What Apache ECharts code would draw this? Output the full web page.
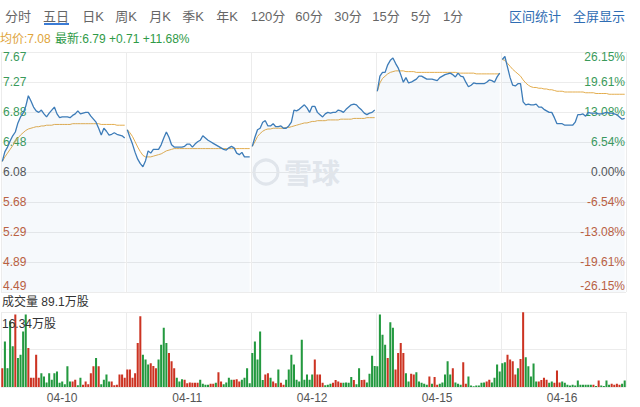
<!DOCTYPE html>
<html><head><meta charset="utf-8">
<script src="https://cdn.jsdelivr.net/npm/echarts@6/dist/echarts.min.js"></script>
<style>html,body{margin:0;padding:0;background:#fff;}#c{width:640px;height:407px;}</style>
</head><body><div id="c"></div>
<script>
// ---- data ----
const days = ['04-10','04-11','04-12','04-15','04-16'];
const priceTicks = ['4.49','4.89','5.29','5.68','6.08','6.48','6.88','7.27','7.67'];
const pctTicks = ['-26.15%','-19.61%','-13.08%','-6.54%','0.00%','6.54%','13.08%','19.61%','26.15%'];
const priceMin = 4.49, priceMax = 7.67, volMax = 16.34;
const tabs = ['分时','五日','日K','周K','月K','季K','年K','120分','60分','30分','15分','5分','1分'];
const tabsRight = ['区间统计','全屏显示'];

const price1 = [6.22,6.35,6.41,6.49,6.56,6.61,6.73,6.81,6.86,6.95,7.09,7.02,6.94,6.89,6.87,6.90,6.85,6.81,6.86,6.90,6.94,6.85,6.80,6.81,6.81,6.81,6.80,6.83,6.85,6.89,6.85,6.86,6.87,6.87,6.82,6.78,6.74,6.66,6.57,6.66,6.62,6.57,6.58,6.60,6.58,6.57,6.56,6.53];
const price2 = [6.64,6.54,6.45,6.34,6.25,6.19,6.15,6.23,6.36,6.33,6.38,6.38,6.38,6.44,6.53,6.61,6.54,6.44,6.41,6.41,6.41,6.41,6.42,6.45,6.45,6.41,6.45,6.48,6.50,6.56,6.53,6.50,6.48,6.46,6.44,6.42,6.40,6.38,6.37,6.40,6.42,6.40,6.33,6.31,6.34,6.28,6.28,6.28];
const price3 = [6.42,6.54,6.64,6.66,6.74,6.76,6.69,6.69,6.72,6.68,6.68,6.69,6.66,6.66,6.69,6.74,6.90,6.89,6.91,6.94,6.97,6.93,6.87,6.95,6.95,6.87,6.84,6.81,6.85,6.87,6.86,6.87,6.87,6.90,6.89,6.87,6.91,6.94,6.97,6.98,6.97,6.93,6.90,6.86,6.84,6.86,6.87,6.90];
const price4 = [7.15,7.35,7.40,7.40,7.50,7.56,7.59,7.52,7.46,7.37,7.27,7.33,7.26,7.27,7.29,7.31,7.35,7.35,7.33,7.31,7.31,7.31,7.30,7.29,7.33,7.35,7.37,7.38,7.39,7.37,7.34,7.39,7.35,7.34,7.27,7.21,7.23,7.26,7.25,7.25,7.25,7.25,7.27,7.30,7.29,7.27,7.34,7.39];
const price5 = [7.57,7.61,7.47,7.33,7.23,7.22,7.25,7.25,7.01,6.97,6.98,6.97,6.97,6.98,6.94,6.94,6.91,6.89,6.87,6.87,6.80,6.72,6.72,6.72,6.70,6.70,6.70,6.70,6.74,6.84,6.84,6.85,6.82,6.87,6.86,6.86,6.86,6.85,6.85,6.86,6.87,6.86,6.86,6.85,6.84,6.81,6.78,6.79];

const avg1 = [6.22,6.28,6.33,6.38,6.43,6.48,6.53,6.57,6.60,6.63,6.65,6.66,6.67,6.68,6.68,6.69,6.69,6.70,6.70,6.70,6.71,6.71,6.71,6.71,6.71,6.71,6.71,6.72,6.72,6.72,6.72,6.72,6.72,6.72,6.72,6.72,6.72,6.72,6.71,6.71,6.71,6.71,6.71,6.71,6.70,6.70,6.70,6.70];
const avg2 = [6.64,6.60,6.55,6.48,6.41,6.35,6.30,6.28,6.28,6.28,6.29,6.30,6.31,6.32,6.34,6.36,6.37,6.38,6.39,6.39,6.39,6.39,6.39,6.39,6.39,6.39,6.39,6.39,6.39,6.39,6.39,6.39,6.39,6.39,6.39,6.39,6.39,6.39,6.39,6.39,6.39,6.39,6.39,6.39,6.39,6.39,6.39,6.39];
const avg3 = [6.42,6.48,6.55,6.59,6.62,6.64,6.65,6.65,6.66,6.66,6.66,6.66,6.66,6.67,6.67,6.68,6.69,6.70,6.71,6.72,6.73,6.73,6.74,6.75,6.75,6.76,6.76,6.76,6.76,6.77,6.77,6.77,6.77,6.77,6.78,6.78,6.78,6.78,6.78,6.79,6.79,6.79,6.79,6.79,6.80,6.80,6.80,6.80];
const avg4 = [7.15,7.26,7.32,7.35,7.38,7.40,7.41,7.42,7.42,7.42,7.42,7.41,7.41,7.41,7.41,7.40,7.40,7.40,7.40,7.40,7.40,7.40,7.40,7.40,7.40,7.40,7.40,7.40,7.40,7.40,7.40,7.39,7.39,7.39,7.39,7.39,7.39,7.39,7.38,7.38,7.38,7.38,7.38,7.38,7.38,7.38,7.38,7.38];
const avg5 = [7.57,7.56,7.52,7.48,7.44,7.41,7.38,7.35,7.30,7.26,7.23,7.21,7.20,7.20,7.19,7.19,7.18,7.18,7.17,7.17,7.16,7.15,7.15,7.15,7.14,7.14,7.14,7.14,7.14,7.14,7.14,7.14,7.13,7.13,7.13,7.13,7.12,7.12,7.12,7.12,7.12,7.11,7.11,7.11,7.11,7.11,7.11,7.11];

const vol1 = [4.1,9.9,4.1,14.3,8.9,15.8,6.3,7.0,12.1,15.8,8.5,2.0,2.0,7.0,2.0,3.0,2.3,1.0,3.0,1.6,3.0,3.4,0.9,1.2,0.6,4.5,1.2,1.2,1.6,0.4,2.0,0.5,1.2,0.6,3.0,4.5,6.3,4.5,0.6,1.6,2.7,1.2,1.2,0.4,0.5,2.7,2.7,2.0];
const vol2 = [3.8,3.8,2.0,3.0,9.6,15.4,7.0,6.0,4.9,5.2,4.6,4.1,6.0,9.2,12.9,9.6,7.4,5.6,4.1,2.0,1.2,1.7,1.6,0.8,1.0,0.9,0.9,0.9,1.6,0.7,0.5,0.5,0.7,0.7,0.9,3.2,1.2,0.6,1.0,2.0,1.6,1.6,1.7,1.2,1.6,2.0,4.1,0.8];
const vol3 = [7.4,9.9,6.0,12.1,1.5,2.7,3.0,2.0,1.2,0.8,3.8,0.9,0.5,1.6,3.8,7.0,4.9,1.6,1.2,10.3,1.6,2.7,1.6,2.7,6.0,2.7,2.7,0.9,0.4,0.5,0.7,0.9,1.5,1.2,0.9,0.9,1.0,0.9,2.2,1.5,0.6,4.1,1.5,1.6,1.0,2.9,6.8,4.6];
const vol4 = [4.5,15.8,11.4,9.2,6.3,14.1,12.9,3.8,7.4,9.6,7.4,3.0,1.2,2.9,2.7,3.2,1.2,0.9,0.7,0.5,2.3,0.7,2.2,0.5,0.7,1.0,2.7,5.6,2.7,4.1,1.0,0.7,0.5,5.4,0.7,2.3,0.3,0.15,0.3,0.3,0.9,1.0,1.2,1.6,1.0,2.0,4.9,3.4];
const vol5 = [5.2,5.4,7.0,6.0,5.6,2.7,4.1,6.1,16.3,6.5,4.5,2.3,5.1,1.2,1.2,1.5,2.0,1.6,0.9,1.2,0.9,3.6,1.0,1.2,0.9,0.5,0.3,0.5,0.3,1.4,0.5,0.5,0.5,0.5,0.5,0.5,0.2,1.4,0.3,0.2,1.4,0.5,0.7,0.5,0.7,0.5,0.7,1.4];
// r = red bar, g = green bar
const dir1 = 'rggggrggggrrrrrggggggggggggrrggrrrrrgrggggrrrrrr';
const dir2 = 'rrrrrrgggrrrggggrrrgggrrrrrrggggrrgrrggggrrrgggg';
const dir3 = 'gggggrrgrrgrrgggggggggggrrrrgggrrrrggggrggrrgggg';
const dir4 = 'ggggrggrrrrggrrgggggrgrrgggggrgggrrgggggggrrgggg';
const dir5 = 'ggrrrrgrrgggggrrrrggrrrggggggggggggrgrggggrrrrgg';

// ---- build ----
const N = 48, D = days.length, T = N * D;
const prices = [price1, price2, price3, price4, price5];
const avgs = [avg1, avg2, avg3, avg4, avg5];
const vols = [vol1, vol2, vol3, vol4, vol5];
const dirs = [dir1, dir2, dir3, dir4, dir5];
const cats = [];
days.forEach(d => { for (let i = 0; i < N; i++) cats.push(d + ' ' + i); });
function seg(d, arr) { const o = new Array(T).fill(null); arr.forEach((v, i) => o[d * N + i] = v); return o; }
const RED = '#cc3322', GREEN = '#23993f';
const volData = [];
vols.forEach((arr, d) => arr.forEach((v, i) => volData.push({ value: v, itemStyle: { color: dirs[d][i] === 'r' ? RED : GREEN } })));

const UP = '#3a9a5a', DOWN = '#c0603c', FLAT = '#555';
const FONT = 'Liberation Sans, Arial, "Noto Sans CJK SC", sans-serif';
const chart = echarts.init(document.getElementById('c'), null, { renderer: 'svg' });
const series = [];
for (let d = 0; d < D; d++) {
  series.push({ type: 'line', xAxisIndex: 0, yAxisIndex: 0, data: seg(d, prices[d]), symbol: 'none', z: 4,
    lineStyle: { color: '#3d7cb8', width: 1.3 }, areaStyle: { color: 'rgba(70,125,190,0.07)' } });
  series.push({ type: 'line', xAxisIndex: 0, yAxisIndex: 0, data: seg(d, avgs[d]), symbol: 'none', z: 3,
    lineStyle: { color: '#e3ad4e', width: 1 } });
}
series.push({ type: 'bar', xAxisIndex: 1, yAxisIndex: 3, data: volData, barCategoryGap: '22%' });

const graphics = [];
const tabX = [18, 56, 93, 126, 160, 193, 227, 268, 309, 348, 386, 421, 453];
tabs.forEach((t, i) => graphics.push({ type: 'text', x: tabX[i], y: 16, style: { text: t, fill: '#666', font: '13px ' + FONT, textAlign: 'center', textVerticalAlign: 'middle' } }));
[535, 599].forEach((x, i) => graphics.push({ type: 'text', x: x, y: 16, style: { text: tabsRight[i], fill: '#2f6db3', font: '13px ' + FONT, textAlign: 'center', textVerticalAlign: 'middle' } }));
graphics.push({ type: 'rect', shape: { x: 44, y: 23, width: 25, height: 2 }, style: { fill: '#3a7bd5' } });
graphics.push({ type: 'text', x: 0, y: 39, style: { text: '均价:7.08', fill: '#e0a43a', font: '12px ' + FONT, textVerticalAlign: 'middle' } });
graphics.push({ type: 'text', x: 55, y: 39, style: { text: '最新:6.79 +0.71 +11.68%', fill: '#2f9a47', font: '12px ' + FONT, textVerticalAlign: 'middle' } });
graphics.push({ type: 'text', x: 2, y: 302, style: { text: '成交量 89.1万股', fill: '#333', font: '12px ' + FONT, textVerticalAlign: 'middle' } });
graphics.push({ type: 'text', x: 2, y: 324, z: 10, style: { text: '16.34万股', fill: '#333', font: '12px ' + FONT, textVerticalAlign: 'middle' } });
// watermark
graphics.push({ type: 'circle', shape: { cx: 266, cy: 172, r: 12 }, style: { fill: 'none', stroke: '#e8eaee', lineWidth: 3 } });
graphics.push({ type: 'text', x: 284, y: 172, style: { text: '雪球', fill: '#e8eaee', font: 'bold 28px "Noto Sans CJK SC", sans-serif', textVerticalAlign: 'middle' } });

const gridLine = { show: true, lineStyle: { color: '#ececec', width: 1 } };
chart.setOption({
  animation: false,
  backgroundColor: '#fff',
  textStyle: { fontFamily: FONT },
  graphic: graphics,
  grid: [
    { left: 1, top: 52, width: 625, height: 240 },
    { left: 1, top: 312, width: 625, height: 75 }
  ],
  xAxis: [
    { type: 'category', gridIndex: 0, data: cats, boundaryGap: true, axisLine: { show: false }, axisTick: { show: false }, axisLabel: { show: false },
      splitLine: { show: true, interval: (i) => i % N === 0, lineStyle: { color: '#ececec' } } },
    { type: 'category', gridIndex: 1, data: cats, boundaryGap: true, axisLine: { show: false }, axisTick: { show: false },
      axisLabel: { interval: (i) => i % N === 23, formatter: (v) => v.split(' ')[0], color: '#555', fontSize: 12, margin: 5 },
      splitLine: { show: true, interval: (i) => i % N === 0, lineStyle: { color: '#ececec' } } }
  ],
  yAxis: [
    { type: 'value', gridIndex: 0, min: priceMin, max: priceMax, show: false, splitLine: { show: false } },
    { type: 'value', gridIndex: 0, min: 0, max: 8, interval: 1, position: 'left', axisLine: { show: false }, axisTick: { show: false },
      splitLine: gridLine,
      axisLabel: { inside: true, margin: 2, fontSize: 12,
        color: (v) => v > 4 ? UP : (v < 4 ? DOWN : FLAT),
        formatter: (v) => v === 8 ? '{t|' + priceTicks[v] + '}' : (v === 0 ? '{b|' + priceTicks[v] + '}' : priceTicks[v]),
        rich: { t: { color: UP, fontSize: 12, padding: [10, 0, 0, 0] }, b: { color: DOWN, fontSize: 12, padding: [0, 0, 12, 0] } } } },
    { type: 'value', gridIndex: 0, min: 0, max: 8, interval: 1, position: 'right', axisLine: { show: false }, axisTick: { show: false },
      splitLine: { show: false },
      axisLabel: { inside: true, margin: 1, fontSize: 12,
        color: (v) => v > 4 ? UP : (v < 4 ? DOWN : FLAT),
        formatter: (v) => v === 8 ? '{t|' + pctTicks[v] + '}' : (v === 0 ? '{b|' + pctTicks[v] + '}' : pctTicks[v]),
        rich: { t: { color: UP, fontSize: 12, padding: [10, 0, 0, 0] }, b: { color: DOWN, fontSize: 12, padding: [0, 0, 12, 0] } } } },
    { type: 'value', gridIndex: 1, min: 0, max: volMax, interval: volMax / 2, axisLine: { show: false }, axisTick: { show: false }, axisLabel: { show: false },
      splitLine: gridLine }
  ],
  series: series
});
</script></body></html>
